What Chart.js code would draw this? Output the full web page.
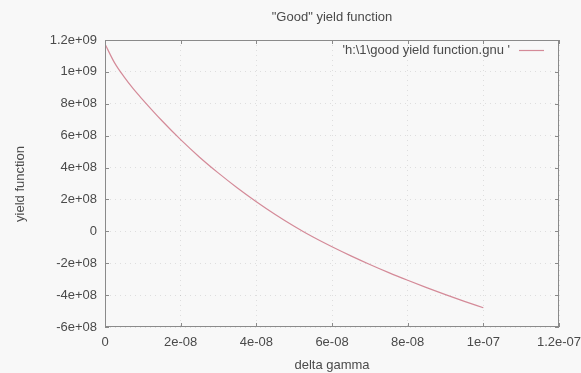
<!DOCTYPE html>
<html>
<head>
<meta charset="utf-8">
<script src="https://cdn.jsdelivr.net/npm/chart.js@4/dist/chart.umd.min.js"></script>
<style>
  html, body { margin: 0; padding: 0; background: #f8f8f8; }
  #wrap { width: 581px; height: 373px; position: relative; }
</style>
</head>
<body>
<div id="wrap"><canvas id="chart" width="581" height="373"></canvas></div>
<script>
// delta gamma samples and the yield function values along the curve
const deltaGamma = [0, 2.5e-9, 5e-9, 7.5e-9, 1e-8, 1.5e-8, 2e-8, 2.5e-8, 3e-8, 3.5e-8, 4e-8, 4.5e-8, 5e-8,
  5.5e-8, 6e-8, 6.5e-8, 7e-8, 7.5e-8, 8e-8, 8.5e-8, 9e-8, 9.5e-8, 1e-7];
const yieldValues = [1.175e9, 1.058e9, 9.7e8, 8.93e8, 8.25e8, 6.95e8, 5.75e8, 4.65e8, 3.65e8, 2.72e8, 1.86e8, 1.06e8, 3.2e7,
  -3.6e7, -9.7e7, -1.54e8, -2.08e8, -2.59e8, -3.07e8, -3.53e8, -3.97e8, -4.39e8, -4.79e8];
const seriesLabel = "'h:\\1\\good yield function.gnu '";
const chartTitle = '"Good" yield function';
const xTitle = 'delta gamma';
const yTitle = 'yield function';

const FAMILY = '"Liberation Sans", Arial, sans-serif';
const FONT = '13px ' + FAMILY;
const TEXT = '#4a4a4a';
const LINE = '#d48a98';

// gnuplot style number labels: 1.2e+09, 2e-08, 0
function gnuFmt(v) {
  if (Math.abs(v) < 1e-30) return '0';
  let e = Math.floor(Math.log10(Math.abs(v)));
  let m = Math.round(v / Math.pow(10, e) * 100) / 100;
  if (Math.abs(m) >= 10) { m /= 10; e += 1; }
  const es = (e < 0 ? '-' : '+') + String(Math.abs(e)).padStart(2, '0');
  return String(m) + 'e' + es;
}

const points = deltaGamma.map((x, i) => ({ x: x, y: yieldValues[i] }));

// frame, inward ticks, titles and the key
const decor = {
  id: 'decor',
  beforeDraw(chart) {
    const c = chart.ctx;
    c.save();
    c.fillStyle = '#f8f8f8';
    c.fillRect(0, 0, chart.width, chart.height);
    c.restore();
  },
  afterDraw(chart) {
    const c = chart.ctx;
    const a = chart.chartArea;
    const xs = chart.scales.x, ys = chart.scales.y;
    c.save();
    c.strokeStyle = '#8a8a8a';
    c.lineWidth = 1;
    c.strokeRect(a.left + 0.5, a.top + 0.5, a.right - a.left - 1, a.bottom - a.top - 1);
    c.beginPath();
    xs.ticks.forEach(t => {
      const px = Math.round(xs.getPixelForValue(t.value)) + 0.5;
      c.moveTo(px, a.bottom); c.lineTo(px, a.bottom - 4);
      c.moveTo(px, a.top); c.lineTo(px, a.top + 4);
    });
    ys.ticks.forEach(t => {
      const py = Math.round(ys.getPixelForValue(t.value)) + 0.5;
      c.moveTo(a.left, py); c.lineTo(a.left + 4, py);
      c.moveTo(a.right, py); c.lineTo(a.right - 4, py);
    });
    c.stroke();

    c.font = FONT;
    c.fillStyle = TEXT;
    c.textBaseline = 'middle';
    c.textAlign = 'center';
    const cx = (a.left + a.right) / 2;
    c.fillText(chartTitle, cx, 17);
    c.fillText(xTitle, cx, 365);
    c.save();
    c.translate(20, 184);
    c.rotate(-Math.PI / 2);
    c.fillText(yTitle, 0, 0);
    c.restore();

    // key in the top right corner
    c.textAlign = 'right';
    c.fillText(seriesLabel, 510, 50);
    c.strokeStyle = LINE;
    c.lineWidth = 1.2;
    c.beginPath();
    c.moveTo(519, 50.5); c.lineTo(544, 50.5);
    c.stroke();
    c.restore();
  }
};

new Chart(document.getElementById('chart'), {
  type: 'line',
  data: {
    datasets: [{
      label: seriesLabel,
      data: points,
      borderColor: LINE,
      borderWidth: 1.2,
      pointRadius: 0,
      fill: false,
      cubicInterpolationMode: 'monotone'
    }]
  },
  options: {
    responsive: false,
    animation: false,
    layout: { padding: { top: 40, right: 22, left: 0, bottom: 0 } },
    plugins: { legend: { display: false }, title: { display: false }, tooltip: { enabled: false } },
    scales: {
      x: {
        type: 'linear',
        min: 0, max: 1.2e-7,
        afterFit: s => { s.height = 46; s.paddingLeft = 0; s.paddingRight = 0; },
        ticks: { stepSize: 2e-8, callback: v => gnuFmt(v), color: TEXT, padding: 8,
          font: { family: FAMILY, size: 13 }, maxRotation: 0 },
        grid: { color: 'rgba(0,0,0,0.10)', drawTicks: false },
        border: { display: false, dash: [1, 4] }
      },
      y: {
        type: 'linear',
        min: -6e8, max: 1.2e9,
        afterFit: s => { s.width = 105; s.paddingTop = 0; s.paddingBottom = 0; },
        ticks: { stepSize: 2e8, callback: v => gnuFmt(v), color: TEXT, padding: 8,
          font: { family: FAMILY, size: 13 } },
        grid: { color: 'rgba(0,0,0,0.10)', drawTicks: false },
        border: { display: false, dash: [1, 4] }
      }
    }
  },
  plugins: [decor]
});
</script>
</body>
</html>
